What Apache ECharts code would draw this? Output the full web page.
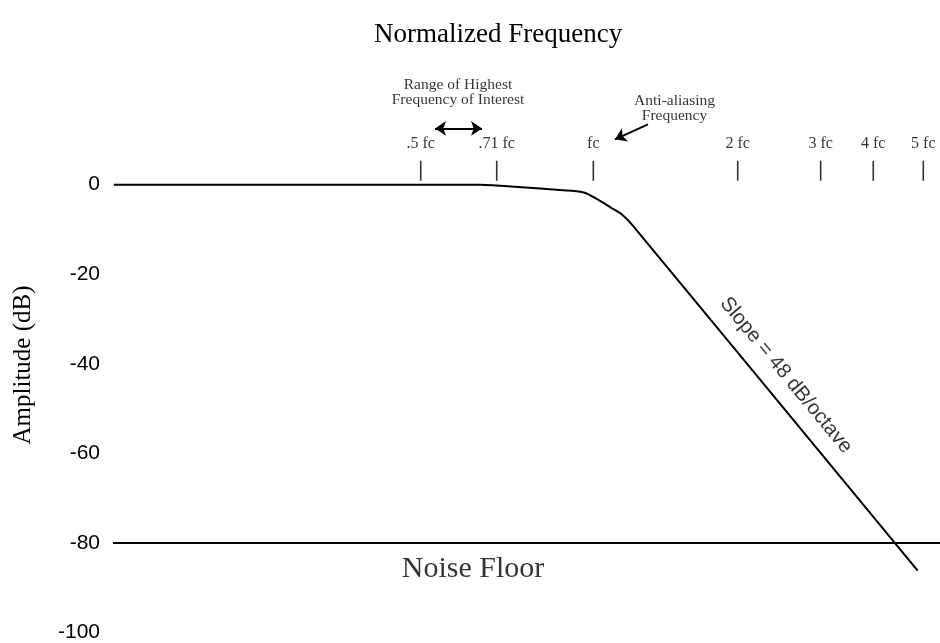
<!DOCTYPE html>
<html>
<head>
<meta charset="utf-8">
<script src="https://cdn.jsdelivr.net/npm/echarts@6/dist/echarts.min.js"></script>
<style>html,body{margin:0;padding:0;background:#fff}#c{width:940px;height:643px}</style>
</head>
<body>
<div id="c"></div>
<script>
// Frequency positions are horizontal positions (percent of plot width)
const tickNames = ['.5 fc', '.71 fc', 'fc', '2 fc', '3 fc', '4 fc', '5 fc'];
const tickPos = [37.21, 46.40, 58.08, 75.54, 85.57, 91.93, 97.98];
const curveX = [0.1, 44.4, 46.4, 51.63, 54.05, 56.83, 58.89, 60.10, 61.51, 62.88, 97.30];
const curveDb = [0, 0, -0.2, -0.85, -1.2, -1.7, -3.6, -5.0, -6.6, -9.2, -86.2];
const noiseFloorDb = -80;
const yMin = -100, yMax = 40, yStep = 20;

const serif = '"Liberation Serif", "Times New Roman", serif';
const sans = '"Liberation Sans", Arial, sans-serif';

const chart = echarts.init(document.getElementById('c'));
chart.setOption({
  animation: false,
  backgroundColor: '#fff',
  title: {
    text: 'Normalized Frequency',
    left: 369, top: 16,
    textStyle: {fontFamily: serif, fontSize: 27, fontWeight: 'normal', color: '#000'}
  },
  grid: {left: 113, right: 0, top: 5.5, bottom: 7.5},
  xAxis: {type: 'value', min: 0, max: 100, show: false},
  yAxis: {
    type: 'value', min: yMin, max: yMax, interval: yStep,
    axisLine: {show: false}, axisTick: {show: false}, splitLine: {show: false},
    axisLabel: {
      margin: 13, fontSize: 21, color: '#000', fontFamily: sans,
      formatter: v => (v > 0 ? '' : String(v))
    }
  },
  graphic: [{
    type: 'text', x: 23, y: 365, rotation: Math.PI / 2,
    style: {text: 'Amplitude (dB)', font: '25px ' + serif, fill: '#000', textAlign: 'center', textVerticalAlign: 'middle'}
  }],
  series: [
    {
      type: 'line', data: curveX.map((x, i) => [x, curveDb[i]]),
      symbol: 'none', smooth: 0.3, lineStyle: {color: '#000', width: 2}, z: 3
    },
    {
      type: 'line', data: [[0, noiseFloorDb], [100, noiseFloorDb]],
      symbol: 'none', lineStyle: {color: '#000', width: 2}, z: 3
    },
    {
      type: 'scatter', data: tickPos.map((x, i) => ({name: tickNames[i], value: [x, 3.1]})),
      symbol: 'rect', symbolSize: [1.6, 20], itemStyle: {color: '#000'},
      label: {show: true, position: 'top', distance: 9, formatter: p => p.name,
        fontFamily: serif, fontSize: 16, color: '#000'}
    },
    {
      type: 'scatter', symbolSize: 0, silent: true, itemStyle: {color: '#000'},
      data: [
        {value: [41.72, 20.6], label: {formatter: 'Range of Highest\nFrequency of Interest'}},
        {value: [67.9, 17.0], label: {formatter: 'Anti-aliasing\nFrequency'}},
        {value: [43.53, -85.9], label: {formatter: 'Noise Floor', fontSize: 30, lineHeight: 32}},
        {value: [81.38, -42.56], label: {formatter: 'Slope = 48 dB/octave', rotate: -50.5, fontFamily: sans, fontSize: 20.5, lineHeight: 22}}
      ],
      label: {show: true, position: 'inside', fontFamily: serif, fontSize: 15.5, lineHeight: 15,
        color: '#000', textBorderWidth: 0, textBorderColor: 'transparent',
        align: 'center', verticalAlign: 'middle'}
    },
    {
      type: 'line', data: [], clip: false,
      markLine: {
        silent: true, animation: false,
        label: {show: false},
        lineStyle: {color: '#000', width: 2, type: 'solid'},
        data: [
          [{coord: [38.94, 12.56], symbol: 'arrow', symbolSize: 11}, {coord: [44.62, 12.56], symbol: 'arrow', symbolSize: 11}],
          [{coord: [64.69, 13.44], symbol: 'none'}, {coord: [60.70, 10.11], symbol: 'arrow', symbolSize: 11}]
        ]
      }
    }
  ]
});
</script>
</body>
</html>
